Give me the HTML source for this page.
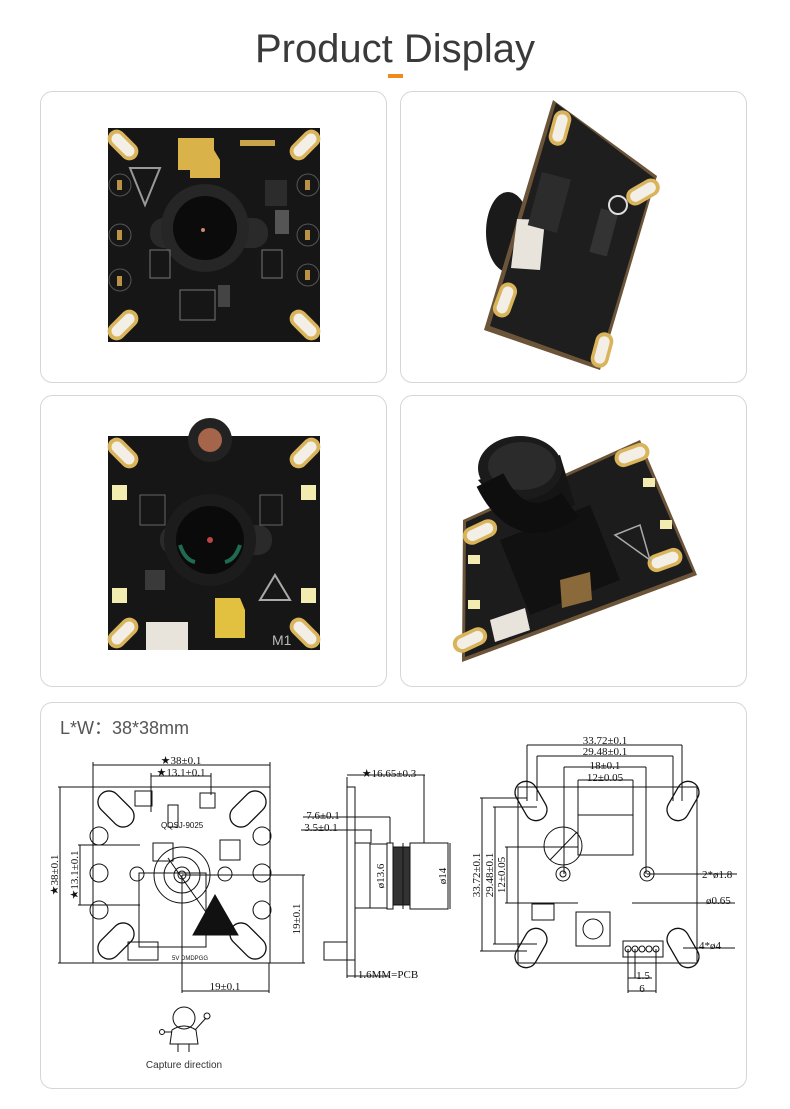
<!DOCTYPE html>
<html><head><meta charset="utf-8"><style>
html,body{margin:0;padding:0;background:#fff;}
svg{display:block;}
text{font-family:"Liberation Serif",serif;}
</style></head><body>
<svg width="790" height="1109" viewBox="0 0 790 1109" xmlns="http://www.w3.org/2000/svg">
<defs>
<g id="pad"><rect x="-9" y="-18" width="18" height="36" rx="9" fill="#d9b45a"/><rect x="-5.5" y="-14" width="11" height="28" rx="5.5" fill="#f3efe6"/></g>
<g id="dpad"><rect x="-11" y="-21" width="22" height="42" rx="11" fill="none" stroke="#111" stroke-width="1.3"/></g>
</defs>
<text x="395" y="62" text-anchor="middle" font-size="40" fill="#3a3a3a" style="font-family:'Liberation Sans',sans-serif">Product Display</text>
<rect x="388" y="74" width="15" height="4" fill="#f08a1c"/>

<!-- cards -->
<rect x="40.5" y="91.5" width="346" height="291" rx="12" fill="#fff" stroke="#d6d6d6"/>
<rect x="400.5" y="91.5" width="346" height="291" rx="12" fill="#fff" stroke="#d6d6d6"/>
<rect x="40.5" y="395.5" width="346" height="291" rx="12" fill="#fff" stroke="#d6d6d6"/>
<rect x="400.5" y="395.5" width="346" height="291" rx="12" fill="#fff" stroke="#d6d6d6"/>
<rect x="40.5" y="702.5" width="706" height="386" rx="12" fill="#fff" stroke="#d6d6d6"/>

<!-- board 1 -->
<rect x="108" y="128" width="212" height="214" fill="#161616"/>
<use href="#pad" transform="translate(123,145) rotate(-45)"/>
<use href="#pad" transform="translate(305,145) rotate(45)"/>
<use href="#pad" transform="translate(123,325) rotate(45)"/>
<use href="#pad" transform="translate(305,325) rotate(-45)"/>
<path d="M178,138 H214 V150 L220,160 V178 H190 V170 H178Z" fill="#d9b24a"/>
<path d="M130,168 L160,168 L145,205Z" fill="none" stroke="#999" stroke-width="2"/>
<circle cx="120" cy="185" r="11" fill="none" stroke="#555"/><circle cx="120" cy="235" r="11" fill="none" stroke="#555"/><circle cx="120" cy="280" r="11" fill="none" stroke="#555"/>
<circle cx="308" cy="185" r="11" fill="none" stroke="#555"/><circle cx="308" cy="235" r="11" fill="none" stroke="#555"/><circle cx="308" cy="275" r="11" fill="none" stroke="#555"/>
<rect x="117" y="180" width="5" height="10" fill="#b99343"/><rect x="117" y="230" width="5" height="10" fill="#b99343"/><rect x="117" y="276" width="5" height="10" fill="#b99343"/>
<rect x="305" y="180" width="5" height="10" fill="#b99343"/><rect x="305" y="230" width="5" height="10" fill="#b99343"/><rect x="305" y="270" width="5" height="10" fill="#b99343"/>
<rect x="150" y="218" width="118" height="30" rx="14" fill="#2a2a2a"/>
<circle cx="205" cy="228" r="44" fill="#262626"/>
<circle cx="205" cy="228" r="32" fill="#0b0b0b"/>
<circle cx="203" cy="230" r="2" fill="#c87"/>
<rect x="150" y="250" width="20" height="28" fill="none" stroke="#777"/><rect x="262" y="250" width="20" height="28" fill="none" stroke="#777"/>
<rect x="180" y="290" width="35" height="30" fill="none" stroke="#777"/><rect x="218" y="285" width="12" height="22" fill="#444"/>
<rect x="265" y="180" width="22" height="26" fill="#2c2c2c"/><rect x="275" y="210" width="14" height="24" fill="#555"/>
<rect x="240" y="140" width="35" height="6" fill="#c9a34a"/>

<!-- board 2 (angled) -->
<ellipse cx="508" cy="232" rx="22" ry="40" fill="#1a1a1a"/>
<polygon points="553,100 657,176 600,370 484,330" fill="#6b5438"/>
<polygon points="556,103 654,178 598,365 490,326" fill="#1e1e1e"/>
<use href="#pad" transform="translate(560,128) rotate(15)"/>
<use href="#pad" transform="translate(643,192) rotate(60)"/>
<use href="#pad" transform="translate(505,300) rotate(20)"/>
<use href="#pad" transform="translate(602,350) rotate(15)"/>
<polygon points="517,219 545,220 540,270 511,268" fill="#e8e4dc"/>
<rect x="535" y="175" width="30" height="55" fill="#2c2c2c" transform="rotate(15 550 200)"/>
<rect x="595" y="210" width="18" height="45" fill="#333" transform="rotate(15 604 232)"/>
<circle cx="618" cy="205" r="9" fill="none" stroke="#ddd" stroke-width="2"/>

<!-- board 3 -->
<rect x="108" y="436" width="212" height="214" fill="#161616"/>
<circle cx="210" cy="440" r="22" fill="#222"/><circle cx="210" cy="440" r="12" fill="#a4654a"/>
<use href="#pad" transform="translate(123,453) rotate(-45)"/>
<use href="#pad" transform="translate(305,453) rotate(45)"/>
<use href="#pad" transform="translate(123,633) rotate(45)"/>
<use href="#pad" transform="translate(305,633) rotate(-45)"/>
<rect x="112" y="485" width="15" height="15" fill="#f3ecb0"/><rect x="301" y="485" width="15" height="15" fill="#f3ecb0"/>
<rect x="112" y="588" width="15" height="15" fill="#f3ecb0"/><rect x="301" y="588" width="15" height="15" fill="#f3ecb0"/>
<rect x="160" y="525" width="112" height="30" rx="14" fill="#2a2a2a"/>
<circle cx="210" cy="540" r="46" fill="#1c1c1c"/>
<circle cx="210" cy="540" r="34" fill="#0a0a0a"/>
<path d="M180,545 Q185,560 195,562" stroke="#1e6b4f" stroke-width="4" fill="none"/><path d="M240,545 Q235,560 225,562" stroke="#1e6b4f" stroke-width="4" fill="none"/>
<circle cx="210" cy="540" r="3" fill="#b44"/>
<path d="M215,598 H240 L245,610 V638 H215Z" fill="#e2c140"/>
<rect x="146" y="622" width="42" height="28" fill="#e8e4dc"/>
<path d="M260,600 L275,575 L290,600Z" fill="none" stroke="#aaa" stroke-width="2"/>
<text x="272" y="645" font-size="14" fill="#bbb" style="font-family:'Liberation Sans',sans-serif">M1</text>
<rect x="140" y="495" width="25" height="30" fill="none" stroke="#666"/><rect x="260" y="495" width="22" height="30" fill="none" stroke="#666"/>
<rect x="145" y="570" width="20" height="20" fill="#3a3a3a"/>

<!-- board 4 (angled) -->
<polygon points="463,520 640,440 697,575 462,662" fill="#6b5438"/>
<polygon points="466,522 638,444 693,572 465,657" fill="#1c1c1c"/>
<use href="#pad" transform="translate(480,532) rotate(65)"/>
<use href="#pad" transform="translate(632,455) rotate(70)"/>
<use href="#pad" transform="translate(665,560) rotate(70)"/>
<use href="#pad" transform="translate(470,640) rotate(65)"/>
<rect x="468" y="555" width="12" height="9" fill="#f3ecb0"/><rect x="468" y="600" width="12" height="9" fill="#f3ecb0"/>
<rect x="643" y="478" width="12" height="9" fill="#f3ecb0"/><rect x="660" y="520" width="12" height="9" fill="#f3ecb0"/>
<polygon points="500,540 590,505 620,580 530,615" fill="#111"/>
<path d="M478,480 L560,455 L575,505 L520,530Z" fill="#151515"/>
<ellipse cx="520" cy="468" rx="42" ry="32" fill="#1b1b1b"/>
<ellipse cx="522" cy="466" rx="34" ry="24" fill="#2b2b2b"/>
<path d="M490,480 Q520,540 570,505" stroke="#0e0e0e" stroke-width="30" fill="none"/>
<polygon points="560,580 590,572 592,600 562,608" fill="#8a6a3a"/>
<polygon points="490,620 525,608 530,630 495,642" fill="#e8e4dc"/>
<path d="M615,535 L640,525 L650,560Z" fill="none" stroke="#aaa" stroke-width="1.5"/>

<!-- bottom drawing -->
<text x="60" y="734" font-size="18" fill="#555" style="font-family:'Liberation Sans',sans-serif">L*W：38*38mm</text>
<g stroke="#111" stroke-width="1" fill="none">
<rect x="93" y="787" width="177" height="176"/>
<use href="#dpad" transform="translate(116,809) rotate(-45)"/>
<use href="#dpad" transform="translate(248,809) rotate(45)"/>
<use href="#dpad" transform="translate(116,941) rotate(45)"/>
<use href="#dpad" transform="translate(248,941) rotate(-45)"/>
<circle cx="99" cy="836" r="9"/><circle cx="99" cy="873" r="9"/><circle cx="99" cy="910" r="9"/>
<circle cx="262" cy="836" r="9"/><circle cx="262" cy="873" r="9"/><circle cx="262" cy="910" r="9"/>
<rect x="153" y="843" width="20" height="18"/><rect x="220" y="840" width="20" height="20"/>
<rect x="139" y="873" width="67" height="74"/><circle cx="182" cy="875" r="28"/><circle cx="182" cy="875" r="18"/><circle cx="182" cy="875" r="8"/><circle cx="182" cy="875" r="4"/>
<circle cx="137" cy="874" r="7"/><circle cx="225" cy="874" r="7"/>
<rect x="168" y="805" width="10" height="22"/><rect x="135" y="791" width="17" height="15"/><rect x="200" y="793" width="15" height="15"/>
<rect x="128" y="942" width="30" height="18"/>
<line x1="93" y1="787" x2="93" y2="762"/><line x1="270" y1="787" x2="270" y2="762"/><line x1="93" y1="765" x2="270" y2="765"/>
<line x1="151" y1="812" x2="151" y2="773"/><line x1="211" y1="795" x2="211" y2="773"/><line x1="151" y1="776" x2="211" y2="776"/>
<line x1="58" y1="787" x2="93" y2="787"/><line x1="58" y1="963" x2="93" y2="963"/><line x1="60" y1="787" x2="60" y2="963"/>
<line x1="78" y1="845" x2="140" y2="845"/><line x1="78" y1="905" x2="140" y2="905"/><line x1="80" y1="845" x2="80" y2="905"/>
<line x1="182" y1="875" x2="305" y2="875"/><line x1="270" y1="963" x2="305" y2="963"/><line x1="303" y1="875" x2="303" y2="963"/>
<line x1="182" y1="875" x2="182" y2="993"/><line x1="269" y1="963" x2="269" y2="993"/><line x1="182" y1="991" x2="269" y2="991"/>
<line x1="168" y1="858" x2="215" y2="925"/>
<path d="M215,895 L238,935 H193Z" fill="#111"/>
<rect x="347" y="787" width="8" height="173"/>
<rect x="324" y="942" width="23" height="18"/>
<rect x="355" y="843" width="15" height="65"/>
<rect x="370" y="844" width="17" height="64"/>
<rect x="387" y="843" width="6" height="66"/>
<rect x="393" y="847" width="17" height="58" fill="#333"/>
<rect x="410" y="843" width="38" height="66"/>
<line x1="347" y1="777" x2="347" y2="787"/><line x1="347" y1="775" x2="425" y2="775"/><line x1="424" y1="775" x2="424" y2="843"/>
<line x1="303" y1="817" x2="390" y2="817"/><line x1="390" y1="817" x2="390" y2="843"/>
<line x1="301" y1="830" x2="372" y2="830"/><line x1="371" y1="830" x2="371" y2="843"/>
<line x1="403" y1="843" x2="403" y2="909"/><line x1="450" y1="843" x2="450" y2="909"/>
<line x1="347" y1="960" x2="347" y2="978"/><line x1="355" y1="960" x2="355" y2="978"/><line x1="347" y1="976" x2="390" y2="976"/>
<rect x="518" y="787" width="179" height="176"/>
<use href="#dpad" transform="translate(531,801) rotate(-30)"/>
<use href="#dpad" transform="translate(683,801) rotate(30)"/>
<use href="#dpad" transform="translate(531,948) rotate(30)"/>
<use href="#dpad" transform="translate(683,948) rotate(-30)"/>
<circle cx="563" cy="846" r="19"/><line x1="550" y1="860" x2="577" y2="832"/>
<circle cx="563" cy="874" r="7"/><circle cx="563" cy="874" r="3"/>
<circle cx="647" cy="874" r="7"/><circle cx="647" cy="874" r="3"/>
<rect x="576" y="912" width="34" height="34"/><circle cx="593" cy="929" r="10"/>
<rect x="532" y="904" width="22" height="16"/>
<rect x="623" y="941" width="40" height="16"/>
<circle cx="628" cy="949" r="3"/><circle cx="635" cy="949" r="3"/><circle cx="642" cy="949" r="3"/><circle cx="649" cy="949" r="3"/><circle cx="656" cy="949" r="3"/>
<rect x="578" y="815" width="55" height="40"/>
<line x1="527" y1="801" x2="527" y2="745"/><line x1="682" y1="801" x2="682" y2="745"/><line x1="527" y1="745" x2="682" y2="745"/>
<line x1="537" y1="801" x2="537" y2="756"/><line x1="673" y1="801" x2="673" y2="756"/><line x1="537" y1="756" x2="673" y2="756"/>
<line x1="564" y1="874" x2="564" y2="767"/><line x1="646" y1="874" x2="646" y2="767"/><line x1="564" y1="767" x2="646" y2="767"/>
<line x1="578" y1="847" x2="578" y2="780"/><line x1="633" y1="847" x2="633" y2="780"/><line x1="578" y1="780" x2="633" y2="780"/>
<line x1="480" y1="798" x2="527" y2="798"/><line x1="480" y1="951" x2="527" y2="951"/><line x1="482" y1="798" x2="482" y2="951"/>
<line x1="493" y1="807" x2="537" y2="807"/><line x1="493" y1="944" x2="537" y2="944"/><line x1="495" y1="807" x2="495" y2="944"/>
<line x1="505" y1="847" x2="578" y2="847"/><line x1="505" y1="903" x2="578" y2="903"/><line x1="507" y1="847" x2="507" y2="903"/>
<line x1="647" y1="874" x2="737" y2="874"/><line x1="632" y1="903" x2="735" y2="903"/>
<line x1="683" y1="948" x2="735" y2="948"/>
<line x1="628" y1="949" x2="628" y2="993"/><line x1="656" y1="949" x2="656" y2="993"/>
<line x1="635" y1="949" x2="635" y2="978"/><line x1="628" y1="978" x2="652" y2="978"/><line x1="628" y1="991" x2="656" y2="991"/>
<circle cx="184" cy="1018" r="11"/>
<path d="M172,1030 Q184,1022 196,1030 L198,1044 H170Z"/>
<line x1="178" y1="1044" x2="178" y2="1052"/><line x1="189" y1="1044" x2="189" y2="1052"/>
<line x1="195" y1="1030" x2="206" y2="1018"/><circle cx="207" cy="1016" r="3"/>
<line x1="172" y1="1032" x2="164" y2="1032"/><circle cx="162" cy="1032" r="2.5"/>
</g>
<g font-size="11" fill="#111">
<text x="181" y="764" text-anchor="middle">★38±0.1</text>
<text x="181" y="776" text-anchor="middle">★13.1±0.1</text>
<text x="58" y="875" transform="rotate(-90 58 875)" text-anchor="middle">★38±0.1</text>
<text x="78" y="875" transform="rotate(-90 78 875)" text-anchor="middle">★13.1±0.1</text>
<text x="300" y="919" transform="rotate(-90 300 919)" text-anchor="middle">19±0.1</text>
<text x="225" y="990" text-anchor="middle">19±0.1</text>
<text x="161" y="828" font-size="8" style="font-family:'Liberation Sans',sans-serif">QQSJ-9025</text>
<text x="172" y="960" font-size="6" style="font-family:'Liberation Sans',sans-serif">5V DMDPGG</text>
<text x="389" y="777" text-anchor="middle">★16.65±0.3</text>
<text x="323" y="819" text-anchor="middle">7.6±0.1</text>
<text x="321" y="831" text-anchor="middle">3.5±0.1</text>
<text x="384" y="876" transform="rotate(-90 384 876)" text-anchor="middle">ø13.6</text>
<text x="446" y="876" transform="rotate(-90 446 876)" text-anchor="middle">ø14</text>
<text x="388" y="978" text-anchor="middle">1.6MM=PCB</text>
<text x="605" y="744" text-anchor="middle">33.72±0.1</text>
<text x="605" y="755" text-anchor="middle">29.48±0.1</text>
<text x="605" y="769" text-anchor="middle">18±0.1</text>
<text x="605" y="781" text-anchor="middle">12±0.05</text>
<text x="480" y="875" transform="rotate(-90 480 875)" text-anchor="middle">33.72±0.1</text>
<text x="493" y="875" transform="rotate(-90 493 875)" text-anchor="middle">29.48±0.1</text>
<text x="505" y="875" transform="rotate(-90 505 875)" text-anchor="middle">12±0.05</text>
<text x="702" y="878">2*ø1.8</text>
<text x="706" y="904">ø0.65</text>
<text x="699" y="949">4*ø4</text>
<text x="643" y="979" text-anchor="middle">1.5</text>
<text x="642" y="992" text-anchor="middle">6</text>
<text x="184" y="1068" text-anchor="middle" font-size="10" fill="#333" style="font-family:'Liberation Sans',sans-serif">Capture direction</text>
</g>
</svg>
</body></html>
